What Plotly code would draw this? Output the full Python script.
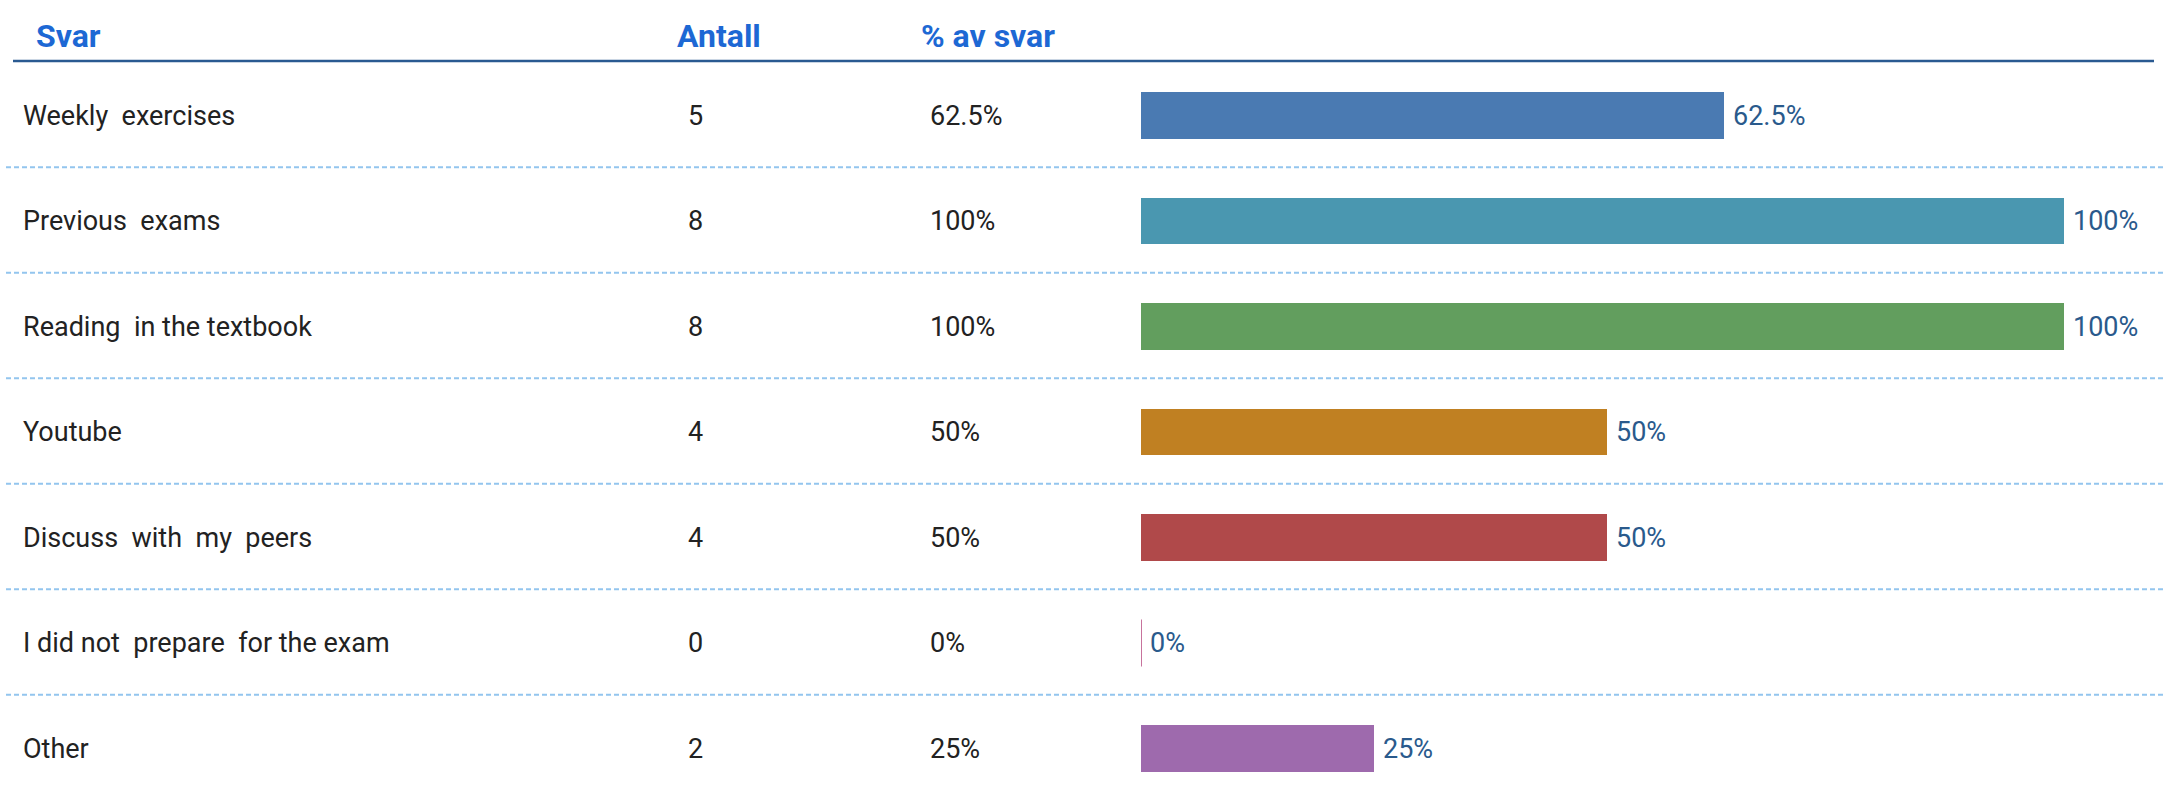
import plotly.graph_objects as go

# Survey answers: how students prepared for the exam
answers = [
    "Weekly  exercises",
    "Previous  exams",
    "Reading  in the textbook",
    "Youtube",
    "Discuss  with  my  peers",
    "I did not  prepare  for the exam",
    "Other",
]
counts = [5, 8, 8, 4, 4, 0, 2]
percents = [62.5, 100, 100, 50, 50, 0, 25]
bar_colors = ["#4a7ab2", "#4a97b0", "#629e5e", "#c08022", "#b0494a", "#b4457b", "#9e6aad"]

headers = ["Svar", "Antall", "% av svar"]

W, H = 2163, 797
row0_px, row_step_px = 115.5, 105.5   # vertical placement of the rows
bar_x0_px, bar_x1_px = 1141, 2064     # visible bar area
px_per_100 = 932                      # length of a 100 % bar before clipping
x_max = (bar_x1_px - bar_x0_px) / px_per_100 * 100
bar_width = 0.445

HEADER_BLUE = "#1d68d4"
LABEL_BLUE = "#2a5a8c"
TEXT = "#222222"
FONT = "Roboto"


def fmt_pct(v):
    return f"{v:g}%"


fig = go.Figure()

fig.add_trace(go.Bar(
    x=percents,
    y=answers,
    orientation="h",
    width=bar_width,
    marker=dict(color=bar_colors, line=dict(width=0)),
    hoverinfo="skip",
    showlegend=False,
))

annotations = []

# column headers
header_y = 1 - 36 / H
for text, xpx in zip(headers, [34, 675, 919]):
    annotations.append(dict(
        text=f"<b>{text}</b>", xref="paper", yref="paper",
        x=xpx / W, y=header_y, xanchor="left", yanchor="middle",
        showarrow=False, font=dict(family=FONT, size=32, color=HEADER_BLUE),
    ))

# table body: answer, count, share, and value label beside each bar
body_font = dict(family=FONT, size=27, color=TEXT)
for ans, c, p in zip(answers, counts, percents):
    annotations.append(dict(
        text=ans, xref="paper", yref="y", x=21 / W, y=ans,
        xanchor="left", yanchor="middle", showarrow=False, font=body_font,
    ))
    annotations.append(dict(
        text=str(c), xref="paper", yref="y", x=686 / W, y=ans,
        xanchor="left", yanchor="middle", showarrow=False, font=body_font,
    ))
    annotations.append(dict(
        text=fmt_pct(p), xref="paper", yref="y", x=928 / W, y=ans,
        xanchor="left", yanchor="middle", showarrow=False, font=body_font,
    ))
    annotations.append(dict(
        text=fmt_pct(p), xref="x", yref="y", x=min(p, x_max), y=ans,
        xanchor="left", yanchor="middle", xshift=7, showarrow=False,
        font=dict(family=FONT, size=27, color=LABEL_BLUE),
    ))

shapes = [
    # solid rule under the header
    dict(type="line", xref="paper", yref="paper",
         x0=13 / W, x1=2154 / W, y0=1 - 61 / H, y1=1 - 61 / H,
         line=dict(color="#2a5a91", width=2.5)),
]
# dashed separators between rows
for i in range(len(answers) - 1):
    shapes.append(dict(
        type="line", xref="paper", yref="y", x0=6 / W, x1=1,
        y0=i + 0.49, y1=i + 0.49,
        line=dict(color="#93c5ee", width=2, dash="5px,3px"),
    ))
# a zero-length bar is shown as a thin stroke at the baseline
for i, (p, col) in enumerate(zip(percents, bar_colors)):
    if p == 0:
        shapes.append(dict(
            type="line", xref="x", yref="y", x0=p, x1=p,
            y0=i - bar_width / 2, y1=i + bar_width / 2,
            line=dict(color=col, width=1.5),
        ))

y_top = -row0_px / row_step_px
y_bottom = (H - row0_px) / row_step_px

fig.update_layout(
    width=W, height=H,
    margin=dict(l=0, r=0, t=0, b=0),
    paper_bgcolor="white", plot_bgcolor="white",
    xaxis=dict(domain=[bar_x0_px / W, bar_x1_px / W], range=[0, x_max],
               visible=False, fixedrange=True),
    yaxis=dict(domain=[0, 1], range=[y_bottom, y_top], visible=False,
               type="category", categoryorder="array", categoryarray=answers,
               fixedrange=True),
    annotations=annotations,
    shapes=shapes,
    bargap=0,
)

fig.write_html("out.html", config={"displayModeBar": False})
